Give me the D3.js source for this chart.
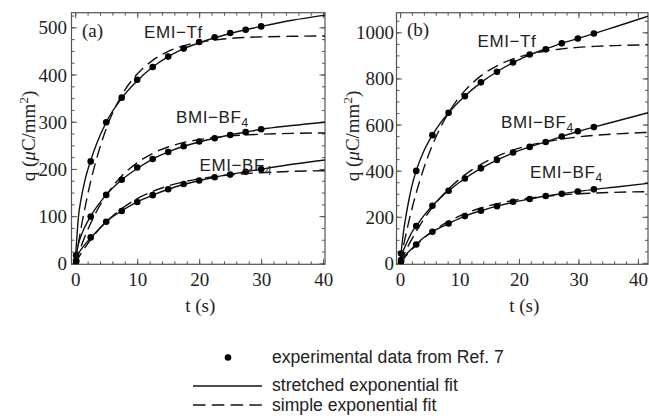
<!DOCTYPE html>
<html lang="en">
<head>
<meta charset="utf-8">
<title>Charge vs time</title>
<script src="https://cdn.jsdelivr.net/npm/d3@7"></script>
<style>
  body { margin: 0; background: #fff; }
  svg { display: block; }
  .tick text { font-family: "Liberation Serif", "Times New Roman", serif; font-size: 19px; fill: #222; }
  .tick line { stroke: #555; }
  .title { font-family: "Liberation Serif", "Times New Roman", serif; font-size: 19px; fill: #222; }
  .lbl { font-family: "Liberation Sans", Arial, sans-serif; font-size: 17px; fill: #222; letter-spacing: 0.6px; }
  .leg { font-family: "Liberation Sans", Arial, sans-serif; font-size: 17.6px; fill: #222; }
</style>
</head>
<body>
<div id="chart"></div>
<script>
// ---- data ----
var series = ["EMI-Tf", "BMI-BF4", "EMI-BF4"];

// panel (a): experimental points
var tDotsA = [0.15, 2.5, 5, 7.5, 10, 12.5, 15, 17.5, 20, 22.5, 25, 27.5, 30];
var dotsA_EMITf  = [17, 216, 299, 351, 389, 416, 438, 455, 469, 479, 488, 495, 502];
var dotsA_BMIBF4 = [6, 99, 145, 177, 203, 221, 236, 248, 258, 265, 272, 278, 284];
var dotsA_EMIBF4 = [3, 55, 88, 111, 130, 144.5, 157, 168, 175.5, 182.5, 188, 194, 199.5];

// panel (a): fitted curves
var tFitA = [0, 0.5, 1, 1.5, 2.5, 3.5, 5, 7.5, 10, 12.5, 15, 17.5, 20, 22.5, 25, 27.5, 30, 35, 40.3];
var strA_EMITf  = [0, 96, 140, 172, 218, 255, 299, 350, 387, 416, 438, 455, 467, 478, 487, 495, 502, 515, 526];
var strA_BMIBF4 = [0, 40, 60, 76, 100, 120, 145, 177, 201, 221, 236, 248, 257, 265, 272, 278, 284, 292, 299];
var strA_EMIBF4 = [0, 20, 30, 39, 54, 68, 88, 111, 130, 144.5, 157, 167, 175.5, 182.5, 188.5, 194, 199.5, 210, 219];
var simA_EMITf  = [0, 41, 79, 113, 174, 224, 285, 356, 401, 430, 449, 461, 468.5, 473, 476.5, 478.7, 479.8, 481.1, 481.6];
var simA_BMIBF4 = [0, 19.6, 38, 54.9, 85, 111.4, 144, 185, 213, 233, 246.5, 256, 262, 266.9, 270, 272.1, 273.6, 275.4, 276.3];
var simA_EMIBF4 = [0, 11.3, 22, 32, 50.5, 66.8, 88, 116, 137, 152.5, 164, 172.7, 179, 184, 187.5, 190.2, 192, 194.8, 196.3];

// panel (b): experimental points
var tDotsB = [0.17, 2.72, 5.44, 8.16, 10.9, 13.6, 16.3, 19.0, 21.8, 24.5, 27.2, 29.9, 32.6];
var dotsB_EMITf  = [41, 399, 554, 651, 723, 783, 829, 869, 904, 926, 952, 973, 995];
var dotsB_BMIBF4 = [12, 160, 248, 313, 366, 410, 446, 479, 503, 524, 548, 571, 589];
var dotsB_EMIBF4 = [5, 80, 135, 171, 203, 226, 246, 265, 277, 290, 300, 310, 319];

// panel (b): fitted curves
var tFitB = [0, 0.5, 1, 1.5, 2, 2.72, 4, 5.44, 6.8, 8.16, 10.9, 13.6, 16.3, 19, 21.8, 24.5, 27.2, 29.9, 32.6, 36, 41.7];
var strB_EMITf  = [0, 120, 205, 275, 335, 400, 485, 554, 607, 651, 724, 782, 829, 868, 902, 928, 952, 973, 994, 1022, 1070];
var strB_BMIBF4 = [0, 50, 80, 108, 134, 160, 205, 248, 283, 313, 366, 410, 446, 477, 503, 525, 548, 570, 589, 612, 651];
var strB_EMIBF4 = [0, 22, 37, 50, 63, 80, 110, 135, 154, 171, 203, 226, 246, 263, 277, 290, 300, 310, 319, 328, 345];
var simB_EMITf  = [0, 65, 125.8, 182.5, 235, 304, 411.5, 511, 587.7, 651, 747, 811, 854.7, 884.5, 905, 919, 928, 934.7, 938.8, 942.3, 945.5];
var simB_BMIBF4 = [0, 28, 54.7, 80.2, 104.2, 137, 189.6, 241, 283.7, 320.7, 381.7, 427, 462, 489, 510, 525, 537, 546, 553, 559, 566];
var simB_EMIBF4 = [0, 16, 31.3, 45.8, 59.4, 78, 107.6, 136.5, 160, 180, 213.6, 238, 256.7, 270.6, 281.4, 289, 295, 299.6, 303, 306, 309];

// ---- drawing ----
var width = 649, height = 420;
var svg = d3.select("#chart").append("svg")
    .attr("width", width).attr("height", height);

var panels = [
  {
    id: "a", name: "(a)",
    left: 71.5, right: 325, top: 12.7, bottom: 264.3,
    xDom: [-0.6, 40.3], yDom: [-2, 531],
    yMajor: d3.range(0, 501, 100), yMinor: d3.range(0, 531, 25),
    tDots: tDotsA, dots: [dotsA_EMITf, dotsA_BMIBF4, dotsA_EMIBF4],
    tFit: tFitA, str: [strA_EMITf, strA_BMIBF4, strA_EMIBF4], sim: [simA_EMITf, simA_BMIBF4, simA_EMIBF4],
    labels: [[144, 38], [176, 123], [199.5, 171]],
    nameXY: [82, 37], yTitleX: 35, yPad: 4.5
  },
  {
    id: "b", name: "(b)",
    left: 396.5, right: 648, top: 12.7, bottom: 264.3,
    xDom: [-0.6, 41.7], yDom: [-6, 1085],
    yMajor: d3.range(0, 1001, 200), yMinor: d3.range(0, 1085, 50),
    tDots: tDotsB, dots: [dotsB_EMITf, dotsB_BMIBF4, dotsB_EMIBF4],
    tFit: tFitB, str: [strB_EMITf, strB_BMIBF4, strB_EMIBF4], sim: [simB_EMITf, simB_BMIBF4, simB_EMIBF4],
    labels: [[477.5, 46.5], [501, 128], [530, 178]],
    nameXY: [407, 36], yTitleX: 359, yPad: 2.5
  }
];

panels.forEach(function (p) {
  var x = d3.scaleLinear().domain(p.xDom).range([p.left, p.right]);
  var y = d3.scaleLinear().domain(p.yDom).range([p.bottom, p.top]);
  var xMajor = d3.range(0, 41, 10), xMinor = d3.range(0, p.xDom[1], 2);
  var g = svg.append("g");

  // ticks on all four sides, pointing inward
  function addAxis(axis, tx, ty, showLabels) {
    var a = g.append("g").attr("transform", "translate(" + tx + "," + ty + ")").call(axis);
    a.select(".domain").remove();
    if (!showLabels) a.selectAll("text").remove();
    return a;
  }
  addAxis(d3.axisBottom(x).tickValues(xMinor).tickSize(-3).tickFormat(""), 0, p.bottom, false);
  addAxis(d3.axisTop(x).tickValues(xMinor).tickSize(-3).tickFormat(""), 0, p.top, false);
  addAxis(d3.axisTop(x).tickValues(xMajor).tickSize(-5.5).tickFormat(""), 0, p.top, false);
  addAxis(d3.axisLeft(y).tickValues(p.yMinor).tickSize(-3).tickFormat(""), p.left, 0, false);
  addAxis(d3.axisRight(y).tickValues(p.yMinor).tickSize(-3).tickFormat(""), p.right, 0, false);
  addAxis(d3.axisRight(y).tickValues(p.yMajor).tickSize(-5.5).tickFormat(""), p.right, 0, false);

  addAxis(d3.axisBottom(x).tickValues(xMajor).tickSize(-5.5).tickPadding(8).tickFormat(d3.format("d")), 0, p.bottom, true);
  var ya = addAxis(d3.axisLeft(y).tickValues(p.yMajor).tickSize(-5.5).tickPadding(p.yPad).tickFormat(d3.format("d")), p.left, 0, true);
  ya.selectAll("text").attr("dy", "0.34em");

  g.append("rect")
    .attr("x", p.left).attr("y", p.top)
    .attr("width", p.right - p.left).attr("height", p.bottom - p.top)
    .attr("fill", "none").attr("stroke", "#555").attr("stroke-width", 1.2);

  // clip
  svg.append("clipPath").attr("id", "clip-" + p.id)
    .append("rect").attr("x", p.left).attr("y", p.top)
    .attr("width", p.right - p.left).attr("height", p.bottom - p.top);
  var plot = g.append("g").attr("clip-path", "url(#clip-" + p.id + ")");

  var line = d3.line()
    .x(function (d) { return x(d[0]); })
    .y(function (d) { return y(d[1]); })
    .curve(d3.curveMonotoneX);

  series.forEach(function (s, i) {
    var strPts = p.tFit.map(function (t, j) { return [t, p.str[i][j]]; });
    var simPts = p.tFit.map(function (t, j) { return [t, p.sim[i][j]]; });
    plot.append("path").datum(simPts).attr("d", line)
      .attr("fill", "none").attr("stroke", "#111").attr("stroke-width", 1.4)
      .attr("stroke-dasharray", "12,6");
    plot.append("path").datum(strPts).attr("d", line)
      .attr("fill", "none").attr("stroke", "#111").attr("stroke-width", 1.4);
    plot.selectAll(null).data(p.tDots.map(function (t, j) { return [t, p.dots[i][j]]; }))
      .enter().append("circle")
      .attr("cx", function (d) { return x(d[0]); })
      .attr("cy", function (d) { return y(d[1]); })
      .attr("r", 3.3).attr("fill", "#000");
  });

  // curve labels
  series.forEach(function (s, i) {
    var t = g.append("text").attr("class", "lbl")
      .attr("x", p.labels[i][0]).attr("y", p.labels[i][1]);
    if (s === "EMI-Tf") {
      t.text("EMI\u2212Tf");
    } else {
      t.append("tspan").text(s.slice(0, 3) + "\u2212BF");
      t.append("tspan").attr("dy", 4).style("font-size", "12px").text("4");
    }
  });

  g.append("text").attr("class", "title")
    .attr("x", p.nameXY[0]).attr("y", p.nameXY[1]).text(p.name);

  // axis titles
  var yt = g.append("text").attr("class", "title")
    .attr("text-anchor", "middle")
    .attr("transform", "translate(" + p.yTitleX + ",136) rotate(-90)");
  yt.append("tspan").text("q (");
  yt.append("tspan").style("font-style", "italic").text("\u03bc");
  yt.append("tspan").text("C/mm");
  yt.append("tspan").attr("dy", -7).style("font-size", "13px").text("2");
  yt.append("tspan").attr("dy", 7).text(")");

  g.append("text").attr("class", "title")
    .attr("text-anchor", "middle")
    .attr("x", (p.left + p.right) / 2 + 2).attr("y", 312)
    .text("t (s)");
});

// legend
var leg = svg.append("g");
leg.append("circle").attr("cx", 228).attr("cy", 357.5).attr("r", 3.3).attr("fill", "#000");
leg.append("line").attr("x1", 193).attr("x2", 262).attr("y1", 386).attr("y2", 386)
  .attr("stroke", "#111").attr("stroke-width", 1.4);
leg.append("line").attr("x1", 193).attr("x2", 262).attr("y1", 405).attr("y2", 405)
  .attr("stroke", "#111").attr("stroke-width", 1.4).attr("stroke-dasharray", "12.5,6.3");
var legText = ["experimental data from Ref. 7", "stretched exponential fit", "simple exponential fit"];
var legY = [363, 391, 410.5];
legText.forEach(function (s, i) {
  leg.append("text").attr("class", "leg").attr("x", 272).attr("y", legY[i]).text(s);
});
</script>
</body>
</html>
